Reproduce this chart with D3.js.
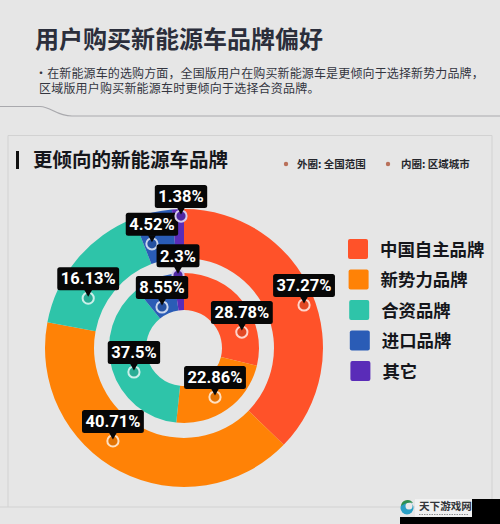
<!DOCTYPE html>
<html><head><meta charset="utf-8">
<script src="https://cdnjs.cloudflare.com/ajax/libs/d3/7.8.5/d3.min.js"></script>
<style>html,body{margin:0;padding:0;background:#e6e6e6}svg{display:block}text{font-family:"Noto Sans CJK SC","Noto Sans",sans-serif}</style>
</head><body><svg id="c" width="500" height="524"></svg>
<script>
const categories = ["中国自主品牌","新势力品牌","合资品牌","进口品牌","其它"];
const outerValues = [37.27,40.71,16.13,4.52,1.38];
const innerValues = [28.78,22.86,37.5,8.55,2.3];
const colors = ["#ff5229","#ff8206","#2ec4a9","#2a5cb6","#5a2cb8"];
const ringLabels = ["外圈: 全国范围","内圈: 区域城市"];
const title = "用户购买新能源车品牌偏好";
const subtitle = ["·在新能源车的选购方面，全国版用户在购买新能源车是更倾向于选择新势力品牌，","区域版用户购买新能源车时更倾向于选择合资品牌。"];
const sectionTitle = "更倾向的新能源车品牌";
// label anchor bearing (degrees clockwise from top) and radius
const outerAnchorDeg = [70.3,217.4,297.5,342.9,358.7];
const outerAnchorR = [127.5,117,108,109,132];
const innerAnchorDeg = [74.6,147.7,244.4,331.8,355.3];
const innerAnchorR = [60,58,55.5,46.5,73];

const svg = d3.select("#c");
const cx=184, cy=348;
svg.append("rect").attr("width",500).attr("height",524).attr("fill","#e6e6e6");

// header
svg.append("text").attr("x",35).attr("y",48).attr("font-size",24).attr("font-weight",700).attr("fill","#2b2e3b").text(title);
svg.selectAll(".sub").data(subtitle).join("text").attr("x",(d,i)=>i?39:35).attr("y",(d,i)=>77.5+i*15)
  .attr("font-size",12).attr("letter-spacing",(d,i)=>i?0.2:0.13).attr("fill","#33353f").text(d=>d);
svg.append("path").attr("d","M0 106.5H40C52 107 56 116 72 116H500").attr("fill","none").attr("stroke","#a9a9ad").attr("stroke-width",1.2);

// panel
svg.append("path").attr("d","M8 507V135.5H492V507").attr("fill","none").attr("stroke","#d2d2d2").attr("stroke-width",1);
svg.append("path").attr("d","M0 507H492").attr("fill","none").attr("stroke","#d2d2d2").attr("stroke-width",1);
svg.append("rect").attr("x",16).attr("y",151).attr("width",3).attr("height",18).attr("fill","#111");
svg.append("text").attr("x",33).attr("y",167).attr("font-size",19.5).attr("font-weight",700).attr("fill","#15161b").text(sectionTitle);
const rl=[{dot:286,tx:297},{dot:388,tx:401}];
svg.selectAll(".rl").data(ringLabels).join("text").attr("x",(d,i)=>rl[i].tx).attr("y",168).attr("font-size",10.5).attr("font-weight",700).attr("fill","#25262c").text(d=>d);
svg.selectAll(".rd").data(ringLabels).join("circle").attr("cx",(d,i)=>rl[i].dot).attr("cy",164).attr("r",2.2).attr("fill","#b9705a");

// rings
const pie=d3.pie().sort(null).value(d=>d);
const chart=svg.append("g").attr("transform",`translate(${cx},${cy})`);
const rings=[{vals:outerValues,r0:90,r1:139,deg:outerAnchorDeg,rad:outerAnchorR},{vals:innerValues,r0:38,r1:75,deg:innerAnchorDeg,rad:innerAnchorR}];
rings.forEach(r=>{
  const arc=d3.arc().innerRadius(r.r0).outerRadius(r.r1);
  chart.append("g").selectAll("path").data(pie(r.vals)).join("path").attr("d",arc).attr("fill",(d,i)=>colors[i]);
});
const angle=d3.scaleLinear().domain([0,360]).range([0,2*Math.PI]);
const labels=[];
rings.forEach(r=>r.vals.forEach((v,i)=>{
  const p=d3.pointRadial(angle(r.deg[i]),r.rad[i]);
  labels.push({v,i,x:p[0],y:p[1]});
}));
const order=[0,1,2,3,4,5,6,7,9,8];
const lg=chart.append("g");
order.map(k=>labels[k]).forEach(d=>{
  const g=lg.append("g").attr("transform",`translate(${d.x},${d.y})`);
  g.append("circle").attr("r",5.6).attr("fill",d3.color(colors[d.i]).darker(0.35)).attr("stroke",d3.interpolateRgb(colors[d.i],"#fff")(0.75)).attr("stroke-width",2);
  g.append("path").attr("d","M-4 -8.5L0 -1.5L4 -8.5Z").attr("fill","#070707");
  const rect=g.append("rect").attr("y",-31).attr("height",23).attr("rx",2.5).attr("fill","#070707");
  const t=g.append("text").attr("y",-13.7).attr("text-anchor","middle").attr("font-size",16.5).attr("font-weight",700)
    .attr("fill","#fff").style("font-family","Roboto").text(d.v+"%");
  const w=t.node().getComputedTextLength()+7;
  rect.attr("x",-w/2).attr("width",w);
});

// legend
const legendPitch=d3.scalePoint().domain(categories).range([239,361]);
const lgd=svg.append("g").selectAll("g").data(categories).join("g")
  .attr("transform",(d,i)=>`translate(${348+i*0.6},${legendPitch(d)})`);
lgd.append("rect").attr("width",20).attr("height",20).attr("rx",2).attr("fill",(d,i)=>colors[i]);
lgd.append("text").attr("x",32).attr("y",16.5).attr("font-size",17.4).attr("font-weight",700).attr("fill","#15161b").text(d=>d);

// watermark
const wm=svg.append("g");
wm.append("rect").attr("x",400).attr("y",517).attr("width",100).attr("height",7).attr("fill","#000");
wm.append("rect").attr("x",472).attr("y",499).attr("width",28).attr("height",18).attr("fill","#000");
wm.append("rect").attr("x",415).attr("y",499).attr("width",57).attr("height",18).attr("fill","#f1f1f1");
wm.append("circle").attr("cx",407).attr("cy",508).attr("r",6.5).attr("fill","#2a9fc4");
wm.append("circle").attr("cx",409).attr("cy",506).attr("r",3.5).attr("fill","#e9e9e9");
wm.append("path").attr("d","M401 506A6.5 6.5 0 0 1 413 503Q407 501 401 506Z").attr("fill","#2f8f4f");
wm.append("text").attr("x",419).attr("y",510).attr("font-size",10.6).attr("font-weight",700).attr("fill","#33363a").text("天下游戏网");
wm.append("path").attr("d","M419 514.5H469").attr("stroke","#8a8c8e").attr("stroke-width",1.2).attr("stroke-dasharray","1.5 1");
</script></body></html>
